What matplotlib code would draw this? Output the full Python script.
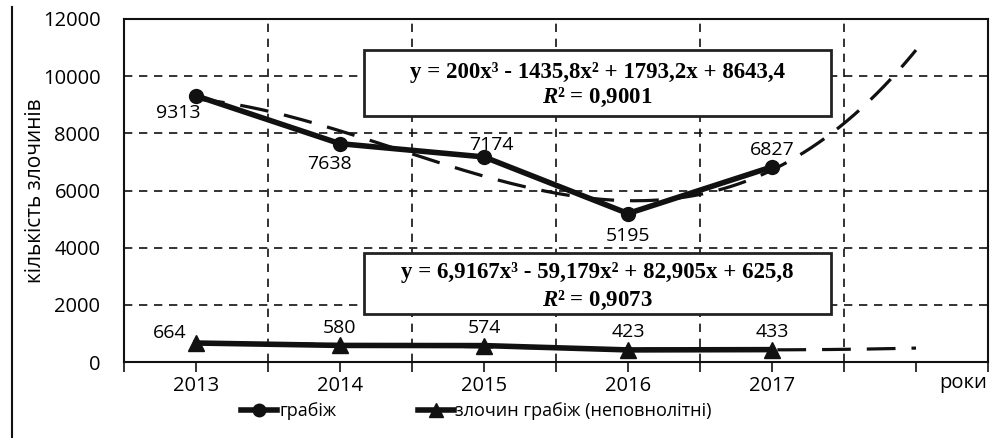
import matplotlib.pyplot as plt
from matplotlib.patches import Rectangle
import numpy as np

# data
years = ['2013', '2014', '2015', '2016', '2017']
robbery = [9313, 7638, 7174, 5195, 6827]
robbery_minors = [664, 580, 574, 423, 433]

# Excel cubic trend coefficients (x = 1..n)
trend_main = [200, -1435.8, 1793.2, 8643.4]
trend_minor = [6.9167, -59.179, 82.905, 625.8]
eq_main = 'y = 200x³ - 1435,8x² + 1793,2x + 8643,4'
eq_minor = 'y = 6,9167x³ - 59,179x² + 82,905x + 625,8'
r2_main = '0,9001'
r2_minor = '0,9073'

plt.rcParams['font.family'] = ['Open Sans', 'DejaVu Sans']
plt.rcParams['mathtext.fontset'] = 'custom'
plt.rcParams['mathtext.rm'] = 'Liberation Serif'
plt.rcParams['mathtext.bf'] = 'Liberation Serif:bold'
plt.rcParams['mathtext.it'] = 'Liberation Serif:italic:bold'
plt.rcParams['mathtext.bfit'] = 'Liberation Serif:italic:bold'

fig = plt.figure(figsize=(9.97, 4.38), dpi=100)
ax = fig.add_axes([124 / 997, 76 / 438, 864 / 997, 343 / 438])

x = np.arange(1, len(years) + 1)

# trend lines (forecast 1 period ahead)
xt = np.linspace(1, len(years) + 1, 200)
ax.plot(xt, np.polyval(trend_main, xt), color='#111111', lw=2.3,
        dashes=(9, 5), zorder=3)
ax.plot(xt, np.polyval(trend_minor, xt), color='#111111', lw=2.3,
        dashes=(9, 5), zorder=3)

l1, = ax.plot(x, robbery, color='#111111', lw=4, marker='o', ms=10,
              zorder=4, label='грабіж')
l2, = ax.plot(x, robbery_minors, color='#111111', lw=4, marker='^', ms=11,
              zorder=4, label='злочин грабіж (неповнолітні)')

# data labels
offs_main = [(-0.12, -600), (-0.07, -700), (0.05, 420), (0.0, -800), (0.0, 590)]
for xi, v, (dx, dy) in zip(x, robbery, offs_main):
    ax.text(xi + dx, v + dy, str(v), ha='center', va='center', fontsize=14, zorder=5)
offs_minor = [(-0.18, 350), (0, 600), (0, 600), (0, 630), (0, 600)]
for xi, v, (dx, dy) in zip(x, robbery_minors, offs_minor):
    ax.text(xi + dx, v + dy, str(v), ha='center', va='center', fontsize=14, zorder=5)

# equation boxes
eq_font = dict(transform=ax.transAxes, ha='center', va='center', fontsize=16.5,
               family='Liberation Serif', fontweight='bold', zorder=7)
for eq, r2, y0, y1, yl1, yl2 in [(eq_main, r2_main, 0.717, 0.910, 0.845, 0.772),
                                 (eq_minor, r2_minor, 0.140, 0.318, 0.262, 0.178)]:
    ax.add_patch(Rectangle((0.278, y0), 0.540, y1 - y0, transform=ax.transAxes,
                           facecolor='white', edgecolor='#222222', lw=2, zorder=6))
    ax.text(0.548, yl1, eq, **eq_font)
    ax.text(0.548, yl2, '$\\mathbfit{R}$² = ' + r2, **eq_font)

ax.set_xlim(0.5, len(years) + 1.5)
ax.set_ylim(0, 12000)
ax.set_yticks(np.arange(0, 12001, 2000))
ax.set_xticks(np.arange(1, len(years) + 2))
ax.set_xticklabels(years + [''])
ax.set_xticks(np.arange(0.5, len(years) + 2, 1.0), minor=True)
ax.grid(True, which='minor', axis='x', color='#111111', ls=(0, (5, 4)), lw=1.2)
ax.grid(True, which='major', axis='y', color='#111111', ls=(0, (5, 4)), lw=1.2)
ax.tick_params(axis='x', which='both', direction='out', length=7, width=1.2,
               labelsize=14.5, pad=3, color='#111111')
ax.tick_params(axis='y', length=0, labelsize=14.5, pad=17)
for s in ax.spines.values():
    s.set_linewidth(1.5)
    s.set_color('#111111')
ax.set_ylabel('кількість злочинів', fontsize=15)
ax.yaxis.set_label_coords(-0.090, 0.5)
ax.text(6.33, -735, 'роки', ha='center', va='center', fontsize=14.5)

fig.legend(handles=[l1, l2], loc='center', bbox_to_anchor=(0.478, 0.062), ncol=2,
           frameon=False, fontsize=13, handlelength=2.0, handletextpad=0.1,
           columnspacing=4.5, markerscale=0.9)

fig.add_artist(plt.Line2D([12 / 997, 12 / 997], [0, 0.985], color='#111111', lw=1.5))

fig.savefig('out.png', dpi=100)
